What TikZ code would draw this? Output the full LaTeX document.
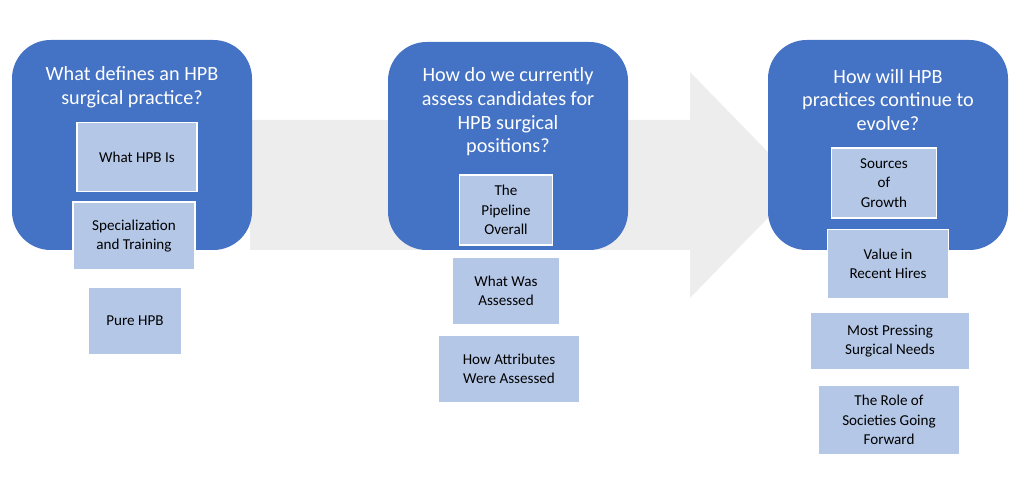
\documentclass[tikz,border=0pt]{standalone}
\usepackage{fontspec}
\setmainfont{Carlito}
\definecolor{qblue}{HTML}{4472C4}
\definecolor{qlight}{HTML}{B4C7E7}
\definecolor{qgray}{HTML}{EDEDED}
\tikzset{
  question/.style={fill=qblue, rounded corners=22pt, text=white, align=center,
    anchor=north west, inner sep=0pt, font=\fontsize{11.5}{13.5}\selectfont},
  topic/.style={fill=qlight, draw=white, line width=0.8pt, align=center,
    inner sep=0pt, font=\fontsize{8.6}{11}\selectfont}
}
\begin{document}
\begin{tikzpicture}[x=0.02cm,y=-0.02cm]
  \useasboundingbox (0,0) rectangle (1024,496);
  % background arrow
  \fill [qgray] (250,120) -- (690,120) -- (690,72) -- (800,185) -- (690,298) -- (690,250) -- (250,250) -- cycle;
  % question boxes
  \fill [qblue, rounded corners=22pt] (12,40) rectangle (252,250);
  \fill [qblue, rounded corners=22pt] (388,42) rectangle (628,250);
  \fill [qblue, rounded corners=22pt] (768,40) rectangle (1008,250);
  \node (q1) [text=white, align=center, font=\fontsize{11.5}{13.5}\selectfont] at (132,87) {What defines an HPB\\surgical practice?};
  \node (q2) [text=white, align=center, font=\fontsize{11.5}{13.5}\selectfont] at (508,112) {How do we currently\\assess candidates for\\HPB surgical\\positions?};
  \node (q3) [text=white, align=center, font=\fontsize{11.5}{13.5}\selectfont] at (888,100) {How will HPB\\practices continue to\\evolve?};
  % topic boxes
  \node (t1) [topic, minimum width=2.4cm, minimum height=1.38cm] at (137,157) {What HPB Is};
  \node (t2) [topic, minimum width=2.44cm, minimum height=1.36cm] at (134,236) {Specialization\\and Training};
  \node (t3) [topic, minimum width=1.88cm, minimum height=1.36cm] at (135,321) {Pure HPB};
  \node (t4) [topic, minimum width=1.86cm, minimum height=1.4cm] at (506,210) {The\\Pipeline\\Overall};
  \node (t5) [topic, minimum width=2.14cm, minimum height=1.36cm] at (506,291) {What Was\\Assessed};
  \node (t6) [topic, minimum width=2.84cm, minimum height=1.36cm] at (509,369) {How Attributes\\Were Assessed};
  \node (t7) [topic, minimum width=2.1cm, minimum height=1.4cm] at (884,183) {Sources\\of\\Growth};
  \node (t8) [topic, minimum width=2.42cm, minimum height=1.38cm] at (888,264) {Value in\\Recent Hires};
  \node (t9) [topic, minimum width=3.2cm, minimum height=1.16cm] at (890,341) {Most Pressing\\Surgical Needs};
  \node (t10) [topic, minimum width=2.84cm, minimum height=1.4cm] at (889,420) {The Role of\\Societies Going\\Forward};
\end{tikzpicture}
\end{document}
